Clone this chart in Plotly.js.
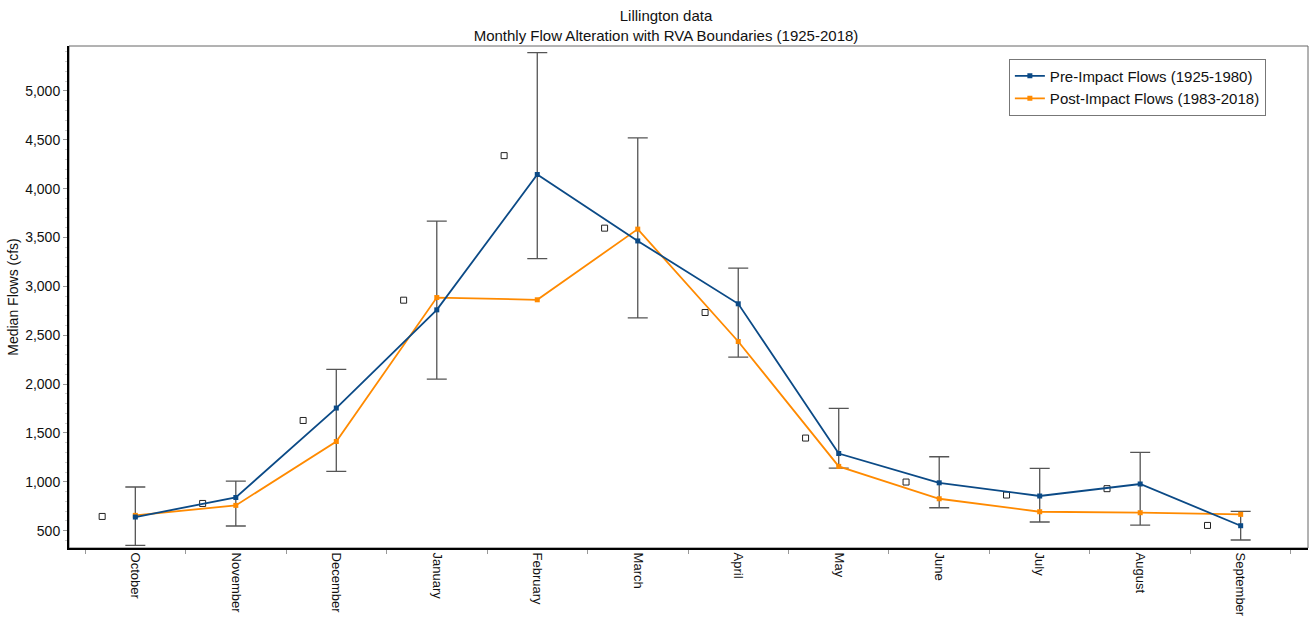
<!DOCTYPE html>
<html>
<head>
<meta charset="utf-8">
<script src="https://cdn.plot.ly/plotly-3.0.1.min.js"></script>
<style>
html,body{margin:0;padding:0;background:#fff;}
#chart{width:1313px;height:617px;}
</style>
</head>
<body>
<div id="chart"></div>
<script>
// ---- Data ----
const months = ["October","November","December","January","February","March","April","May","June","July","August","September"];
const preImpact = [640, 840, 1755, 2760, 4145, 3465, 2822, 1290, 990, 855, 978, 551];
const postImpact = [657, 759, 1413, 2886, 2863, 3586, 2436, 1158, 827, 694, 684, 667];
const rvaLower = [350, 548, 1107, 2051, 3285, 2678, 2276, 1141, 735, 589, 558, 405];
const rvaUpper = [947, 1008, 2150, 3667, 5392, 4519, 3187, 1751, 1257, 1137, 1301, 698];
const otherPoints = [646, 779, 1628, 2859, 4338, 3596, 2733, 1448, 998, 865, 930, 554];
const yTicks = [500, 1000, 1500, 2000, 2500, 3000, 3500, 4000, 4500, 5000];

// ---- Positions (style) ----
const idx = months.map((m, i) => i);
const squareOffset = -0.33;
const sqX = idx.map(i => i + squareOffset);
const rvaMid = rvaLower.map((lo, i) => (lo + rvaUpper[i]) / 2);
const rvaHalf = rvaLower.map((lo, i) => (rvaUpper[i] - lo) / 2);

const FONT = "Liberation Sans, Arial, sans-serif";
const BLUE = "#0b4a86";
const ORANGE = "#ff8a00";

const traces = [
  {
    x: idx, y: rvaMid, type: "scatter", mode: "markers",
    marker: {size: 1, color: "rgba(0,0,0,0)"},
    error_y: {type: "data", array: rvaHalf, symmetric: true, color: "#555", thickness: 1.3, width: 10},
    showlegend: false, hoverinfo: "skip"
  },
  {
    x: sqX, y: otherPoints, type: "scatter", mode: "markers",
    marker: {symbol: "square-open", size: 6, color: "#222", line: {width: 1, color: "#222"}},
    showlegend: false
  },
  {
    x: idx, y: postImpact, type: "scatter", mode: "lines+markers",
    name: "Post-Impact Flows (1983-2018)",
    line: {color: ORANGE, width: 1.8},
    marker: {symbol: "square", size: 5, color: ORANGE}
  },
  {
    x: idx, y: preImpact, type: "scatter", mode: "lines+markers",
    name: "Pre-Impact Flows (1925-1980)",
    line: {color: BLUE, width: 1.8},
    marker: {symbol: "square", size: 5, color: BLUE}
  }
];

const layout = {
  width: 1313, height: 617,
  margin: {l: 69, r: 5, t: 46, b: 69},
  paper_bgcolor: "#fff", plot_bgcolor: "#fff",
  font: {family: FONT, size: 14, color: "#111"},
  title: {
    text: "Lillington data<br>Monthly Flow Alteration with RVA Boundaries (1925-2018)",
    x: 666 / 1313, xref: "container", xanchor: "center",
    y: 1 - 21 / 617, yref: "container", yanchor: "middle",
    font: {family: FONT, size: 15, color: "#111"}
  },
  xaxis: {
    range: [-0.66, 11.67],
    tickmode: "array", tickvals: idx, ticktext: months,
    tickangle: 90, ticks: "", ticklen: 0,
    showgrid: false, zeroline: false,
    showline: true, linecolor: "#000", linewidth: 2,
    minor: {tick0: 0.5, dtick: 1, ticks: "outside", ticklen: 4, tickcolor: "#999", tickwidth: 1, showgrid: false},
    tickfont: {family: FONT, size: 13, color: "#111"},
    fixedrange: true
  },
  yaxis: {
    range: [323, 5460],
    tickmode: "array",
    tickvals: yTicks,
    tickformat: ",d",
    ticks: "outside", ticklen: 4, tickcolor: "#999", tickwidth: 1,
    minor: {dtick: 100, tick0: 0, ticks: "outside", ticklen: 2, tickcolor: "#ccc", tickwidth: 1, showgrid: false},
    showgrid: false, zeroline: false,
    showline: true, linecolor: "#000", linewidth: 2,
    title: {text: "Median Flows (cfs)", standoff: 3, font: {family: FONT, size: 14, color: "#111"}},
    tickfont: {family: FONT, size: 14, color: "#111"},
    fixedrange: true
  },
  legend: {
    x: 0.966, xanchor: "right", y: 0.975, yanchor: "top",
    bgcolor: "#fff", bordercolor: "#777", borderwidth: 1,
    font: {family: FONT, size: 15, color: "#111"},
    traceorder: "reversed", tracegroupgap: 0, itemwidth: 30
  },
  shapes: [
    {type: "rect", xref: "paper", yref: "paper", x0: 0, x1: 1, y0: 0, y1: 1,
     line: {color: "#666", width: 1}, layer: "below"}
  ],
  showlegend: true
};

Plotly.newPlot("chart", traces, layout, {displayModeBar: false, staticPlot: true});
</script>
</body>
</html>
